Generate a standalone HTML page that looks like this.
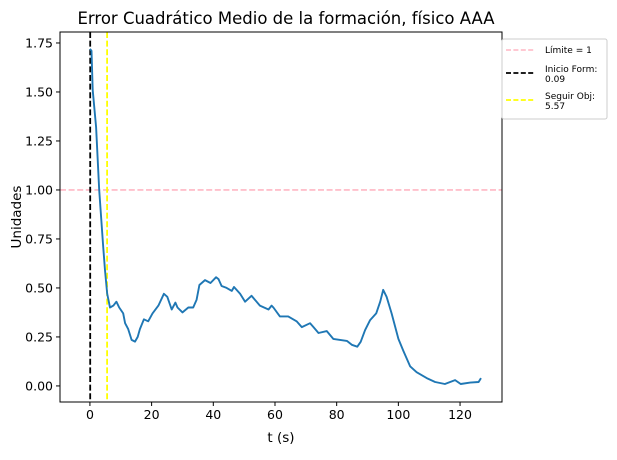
<!DOCTYPE html>
<html><head><meta charset="utf-8"><style>
body{margin:0;background:#fff;font-family:"Liberation Sans","DejaVu Sans",sans-serif;}
svg text{font-family:"DejaVu Sans","Liberation Sans",sans-serif;}
</style></head><body>
<svg id="chart" width="617" height="455" xmlns="http://www.w3.org/2000/svg">
<rect width="617" height="455" fill="#fff"/>
<g id="grid"></g>
<g id="marks"></g>
<g id="axes"></g>
</svg>
<script>
const times=[0,0.5,0.9,2,3,4.3,4.9,5.6,6.5,7.6,8.6,9.5,10.8,11.4,12.4,13.5,14.6,15.5,16.2,17.5,18.9,20.3,22.2,24,25.1,26.5,27.7,28.4,30,31.9,33.5,34.6,35.5,37.3,39.1,40.9,41.7,42.7,44.3,46,46.7,48.7,50.3,52.4,55.1,57.9,58.9,59.5,61.6,64.3,67,68.7,71.4,72.5,74.1,76.8,78.9,83.3,84.9,86.7,87.8,89.2,90.8,92.8,94.1,95.1,96.2,97.8,100,101.6,103.8,105.9,109.2,111.9,115.1,118.4,120.2,123.3,126,126.8];
const errors=[1.72,1.71,1.51,1.32,1.0,0.71,0.59,0.47,0.40,0.41,0.43,0.40,0.37,0.32,0.29,0.235,0.226,0.25,0.29,0.34,0.33,0.37,0.41,0.47,0.455,0.39,0.425,0.40,0.375,0.40,0.40,0.44,0.515,0.54,0.525,0.555,0.545,0.51,0.50,0.485,0.505,0.47,0.43,0.46,0.41,0.39,0.41,0.40,0.355,0.355,0.33,0.30,0.32,0.30,0.27,0.28,0.24,0.23,0.21,0.20,0.225,0.285,0.335,0.37,0.43,0.49,0.455,0.37,0.24,0.18,0.10,0.07,0.04,0.02,0.01,0.03,0.01,0.017,0.02,0.04];
const xTicks=[0,20,40,60,80,100,120];
const yTicks=[0,0.25,0.5,0.75,1.0,1.25,1.5,1.75];
const limitValue=[1];
const startTime=[0.09];
const followTime=[5.57];
const L=60,R=502,T=32,B=402;
const xMin=-9.7,xMax=133.6,yMin=-0.082,yMax=1.806;
const sx=t=>L+(t-xMin)/(xMax-xMin)*(R-L);
const sy=v=>B-(v-yMin)/(yMax-yMin)*(B-T);
const NS="http://www.w3.org/2000/svg";
function mk(tag,attrs,parent,txt){const e=document.createElementNS(NS,tag);for(const k in attrs)e.setAttribute(k,attrs[k]);if(txt!==undefined)e.textContent=txt;parent.appendChild(e);return e;}
const marks=document.getElementById('marks'),axes=document.getElementById('axes');
let e=mk('line',{x1:L,x2:R,y1:sy(limitValue[0]),y2:sy(limitValue[0]),stroke:'#ffc0cb','stroke-width':1.8,'stroke-dasharray':'6,2.6'},marks);


e=mk('line',{x1:sx(startTime[0]),x2:sx(startTime[0]),y1:T,y2:B,stroke:'#000','stroke-width':1.8,'stroke-dasharray':'6,2.6'},marks);


e=mk('line',{x1:sx(followTime[0]),x2:sx(followTime[0]),y1:T,y2:B,stroke:'#ffff00','stroke-width':1.8,'stroke-dasharray':'6,2.6'},marks);


const pts=times.map((t,i)=>sx(t).toFixed(1)+','+sy(errors[i]).toFixed(1)).join(' ');
e=mk('polyline',{points:pts,fill:'none',stroke:'#1f77b4','stroke-width':1.9,'stroke-linejoin':'round'},marks);


e=mk('rect',{x:L,y:T,width:R-L,height:B-T,fill:'none',stroke:'#000','stroke-width':1},axes);


xTicks.forEach(t=>{const x=sx(t);mk('line',{x1:x,x2:x,y1:B,y2:B+4,stroke:'#000'},axes);
 const tx=mk('text',{x:x,y:B+17,'font-size':12.5,'text-anchor':'middle',fill:'#000'},axes,String(t));
 
 });
yTicks.forEach(v=>{const y=sy(v);mk('line',{x1:L-4,x2:L,y1:y,y2:y,stroke:'#000'},axes);
 const tx=mk('text',{x:L-7,y:y+4.5,'font-size':12.5,'text-anchor':'end',fill:'#000'},axes,v.toFixed(2));
 
 });
e=mk('text',{x:(L+R)/2,y:442,'font-size':13.5,'text-anchor':'middle'},axes,'t (s)');


e=mk('text',{x:21,y:(T+B)/2,'font-size':13.5,'text-anchor':'middle',transform:'rotate(-90 21 '+((T+B)/2)+')'},axes,'Unidades');


e=mk('text',{x:286,y:24,'font-size':16.5,'text-anchor':'middle'},axes,'Error Cuadrático Medio de la formación, físico AAA');


const lg=mk('g',{},axes);


mk('rect',{x:502,y:39,width:105,height:80,rx:2,fill:'#fff',stroke:'#ccc'},lg);
const entries=[['#ffc0cb',['Límite = 1'],50],['#000',['Inicio Form:','0.09'],73],['#ffff00',['Seguir Obj:','5.57'],100]];
entries.forEach(([c,lines,y])=>{
 const g=mk('g',{},lg);
 
 
 mk('line',{x1:506,x2:534,y1:y,y2:y,stroke:c,'stroke-width':1.8,'stroke-dasharray':'5,2.4'},g);
 lines.forEach((s,i)=>mk('text',{x:545,y:(lines.length>1?y-1:y+3)+i*10,'font-size':9},g,s));
});
</script>
</body></html>
